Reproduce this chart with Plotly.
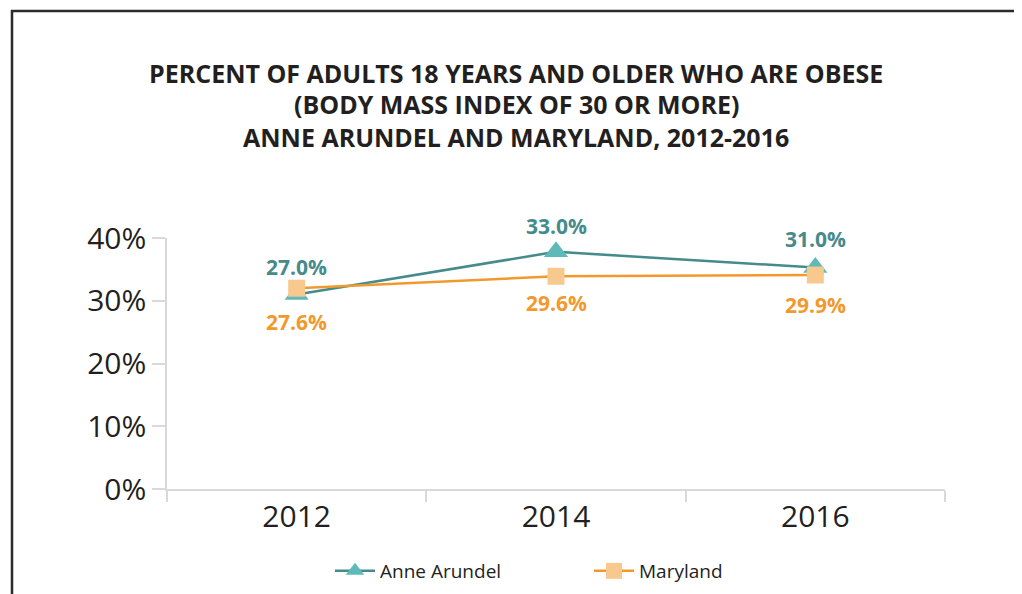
import plotly.graph_objects as go

years = ["2012", "2014", "2016"]
anne_arundel = [31.0, 37.8, 35.3]
maryland = [32.0, 33.9, 34.1]
anne_arundel_labels = ["27.0%", "33.0%", "31.0%"]
maryland_labels = ["27.6%", "29.6%", "29.9%"]
y_ticks = [0, 10, 20, 30, 40]
y_tick_labels = ["0%", "10%", "20%", "30%", "40%"]

TEAL_LINE = "#468b8b"
TEAL_MARK = "#5fb9b9"
ORANGE_LINE = "#f2992e"
ORANGE_MARK = "#f8c98f"
TEXT = "#231f20"
FONT = "Open Sans"

W, H = 1022, 594
OFF = 8  # page body margin
# plot area in page pixels
PL, PR, PT, PB = 167, 945, 238, 489
L, R, T, B = PL - OFF, PR - OFF, PT - OFF, PB - OFF


def px2x(px):
    return (px - PL) / (PR - PL)


def py2y(py):
    return (PB - py) / (PB - PT)


fig = go.Figure()
fig.add_trace(go.Scatter(
    x=years, y=anne_arundel, name="Anne Arundel", mode="lines+markers",
    line=dict(color=TEAL_LINE, width=2.5),
    marker=dict(symbol="triangle-up", size=21, color=TEAL_MARK),
))
fig.add_trace(go.Scatter(
    x=years, y=maryland, name="Maryland", mode="lines+markers",
    line=dict(color=ORANGE_LINE, width=2.5),
    marker=dict(symbol="square", size=17, color=ORANGE_MARK),
))

aa_shift = [27, 26, 28]
md_shift = [-34, -27, -30]
for i, yr in enumerate(years):
    fig.add_annotation(x=i, y=anne_arundel[i], text=anne_arundel_labels[i],
                       showarrow=False, yshift=aa_shift[i],
                       font=dict(family=FONT, size=21, color=TEAL_LINE, weight="bold"))
    fig.add_annotation(x=i, y=maryland[i], text=maryland_labels[i],
                       showarrow=False, yshift=md_shift[i],
                       font=dict(family=FONT, size=21, color=ORANGE_LINE, weight="bold"))

title_lines = [
    "PERCENT OF ADULTS 18 YEARS AND OLDER WHO ARE OBESE",
    "(BODY MASS INDEX OF 30 OR MORE)",
    "ANNE ARUNDEL AND MARYLAND, 2012-2016",
]
title_y = [73, 104, 137]
for line, py in zip(title_lines, title_y):
    fig.add_annotation(xref="paper", yref="paper",
                       x=px2x(516), y=py2y(py),
                       text=line, showarrow=False, xanchor="center", yanchor="middle",
                       font=dict(family=FONT, size=25, color=TEXT, weight="bold"))

# outer frame
fig.add_shape(type="path", xref="paper", yref="paper",
              path=f"M {px2x(12)} {py2y(640)} L {px2x(12)} {py2y(11)} L {px2x(1019)} {py2y(11)} L {px2x(1019)} {py2y(640)}",
              line=dict(color="#2b2b2b", width=2.5))

fig.update_layout(
    width=W, height=H,
    margin=dict(l=L, r=W - R, t=T, b=H - B, autoexpand=False),
    paper_bgcolor="white", plot_bgcolor="white",
    showlegend=True,
    legend=dict(orientation="h", x=px2x(330), xanchor="left", y=py2y(571), yanchor="middle",
                font=dict(family=FONT, size=19, color=TEXT),
                itemwidth=40, entrywidthmode="pixels", entrywidth=204),
    xaxis=dict(
        type="category", showgrid=False, showline=True, linecolor="#d9d9d9", linewidth=2,
        ticks="outside", tickson="boundaries", ticklen=11, tickcolor="#d9d9d9", tickwidth=1.5,
        tickfont=dict(family=FONT, size=30, color=TEXT), range=[-0.5, 2.5],
    ),
    yaxis=dict(
        range=[0, 40], tickvals=y_ticks, ticktext=y_tick_labels, showgrid=False,
        showline=True, linecolor="#d9d9d9", linewidth=1.5, zeroline=False,
        ticks="outside", ticklen=13, tickcolor="#d9d9d9", tickwidth=1.5,
        tickfont=dict(family=FONT, size=30, color=TEXT),
    ),
)

fig.write_html("out.html")
